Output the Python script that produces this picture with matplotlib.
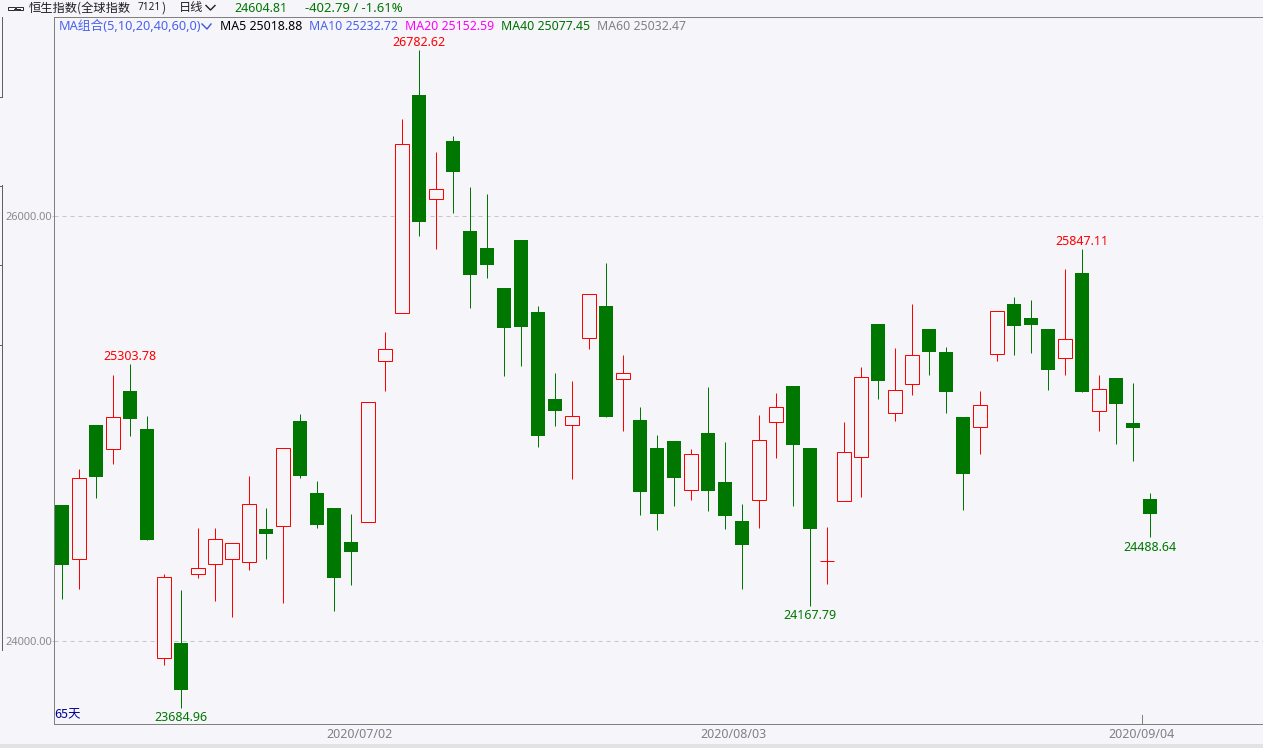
import matplotlib
matplotlib.use("Agg")
import matplotlib.pyplot as plt
from matplotlib.patches import Rectangle, FancyBboxPatch

W, H = 1263, 748

# (bullish candles close above open; bearish close below open)
opens = [24642, 24385, 25019, 24903, 25179, 25000, 23921, 23993, 24314, 24361,
         24385, 24373, 24529, 24540, 25038, 24699, 24628, 24468, 24559, 25317,
         25543, 26572, 26079, 26355, 25932, 25852, 25664, 25889, 25551, 25141,
         25016, 25425, 25579, 25232, 25042, 24911, 24944, 24710, 24981, 24751,
         24567, 24663, 25030, 25202, 24911, 24377, 24658, 24865, 25494, 25072,
         25208, 25471, 25362, 25056, 25006, 25350, 25588, 25522, 25471, 25331,
         25734, 25081, 25240, 25028, 24671]
closes = [24360, 24768, 24774, 25055, 25047, 24478, 24302, 23772, 24344, 24481,
          24462, 24646, 24506, 24909, 24779, 24548, 24299, 24421, 25126, 25375,
          26340, 25974, 26128, 26209, 25725, 25772, 25475, 25480, 24967, 25085,
          25060, 25634, 25056, 25262, 24704, 24600, 24769, 24881, 24708, 24591,
          24454, 24947, 25102, 24925, 24529, 24377, 24890, 25243, 25226, 25182,
          25347, 25362, 25174, 24788, 25112, 25554, 25485, 25489, 25278, 25422,
          25174, 25187, 25118, 25005, 24600]
highs = [24642, 24812, 25019, 25254, 25303.78, 25061, 24318, 24242, 24534, 24534,
         24462, 24779, 24628, 24909, 25071, 24755, 24628, 24600, 25126, 25455,
         26459, 26782.62, 26304, 26379, 26139, 26106, 25664, 25889, 25579, 25264,
         25226, 25634, 25781, 25348, 25104, 24972, 24944, 24906, 25198, 24939,
         24647, 25066, 25169, 25202, 24911, 24539, 25033, 25292, 25494, 25381,
         25588, 25471, 25386, 25056, 25179, 25554, 25621, 25607, 25471, 25753,
         25847.11, 25254, 25240, 25216, 24699]
lows = [24200, 24247, 24675, 24835, 24967, 24478, 23889, 23684.96, 24299, 24191,
        24115, 24333, 24388, 24181, 24769, 24534, 24144, 24266, 24559, 25179,
        25543, 25908, 25847, 26016, 25569, 25711, 25249, 25296, 24915, 25014,
        24765, 25376, 25056, 24991, 24595, 24525, 24638, 24666, 24614, 24529,
        24247, 24534, 24864, 24638, 24167.79, 24271, 24658, 24680, 25141, 25038,
        25160, 25254, 25075, 24619, 24882, 25320, 25348, 25358, 25184, 25254,
        25174, 24991, 24929, 24849, 24488.64]
bullish_doji = [45]
grid_levels = [24000, 26000]
grid_labels = ["24000.00", "26000.00"]
date_ticks = [17.5, 39.5, 63.5]
date_labels = ["2020/07/02", "2020/08/03", "2020/09/04"]
extreme_labels = [(4, 25303.78, "25303.78", "up"), (21, 26782.62, "26782.62", "up"),
                  (60, 25847.11, "25847.11", "up"), (7, 23684.96, "23684.96", "down"),
                  (44, 24167.79, "24167.79", "down"), (64, 24488.64, "24488.64", "down")]
ma_legend = [("MA5 25018.88", "#000000", 220), ("MA10 25232.72", "#4A62F0", 309),
             ("MA20 25152.59", "#FF00FF", 405), ("MA40 25077.45", "#007000", 501),
             ("MA60 25032.47", "#808088", 597)]

BG = "#F5F5FA"
RED = "#FF0000"
GREEN = "#007700"
AXIS = "#808080"
LABEL = ["Noto Sans", "Noto Sans CJK SC", "DejaVu Sans"]
CJK = ["Noto Sans CJK SC", "DejaVu Sans"]
THIN = 0.72  # one pixel at 100 dpi
X0 = 62.0    # pixel column of the first candle
Y26 = 216.2  # pixel row of the 26000 level

fig = plt.figure(figsize=(W / 100, H / 100), dpi=100, facecolor=BG)
ax = fig.add_axes([54 / W, 1 - 724 / H, (W - 54) / W, (724 - 17) / H])
ax.set_facecolor(BG)
ax.set_xlim((54 - X0) / 17, (W - X0) / 17)
# 212.5 px per 1000 points
ax.set_ylim(26000 - (724 - Y26) / 0.2125, 26000 + (Y26 - 17) / 0.2125)
ax.spines["right"].set_visible(False)
for s in ("left", "top", "bottom"):
    ax.spines[s].set_color(AXIS)
    ax.spines[s].set_linewidth(THIN)
ax.set_yticks(grid_levels)
ax.set_yticklabels(grid_labels, color="#8A8A8A", fontsize=7.9, family=LABEL)
ax.tick_params(axis="y", length=1.4, width=THIN, color="#C4C4CA", pad=0.2)
ax.set_xticks(date_ticks)
ax.set_xticklabels(date_labels, color="#808088", fontsize=9, family=LABEL)
ax.tick_params(axis="x", length=0, pad=3)
for lv in grid_levels:
    ax.axhline(lv, color="#C4C4CA", lw=THIN, ls=(0, (4, 4)), zorder=1)

for i, (o, c, hi, lo) in enumerate(zip(opens, closes, highs, lows)):
    up = c > o or i in bullish_doji
    top, bot = max(o, c), min(o, c)
    if up:
        ax.plot([i, i], [top, hi], color=RED, lw=THIN, zorder=3, solid_capstyle="butt")
        ax.plot([i, i], [bot, lo], color=RED, lw=THIN, zorder=3, solid_capstyle="butt")
        ax.add_patch(Rectangle((i - 0.41, bot), 0.82, top - bot, fc=BG, ec=RED,
                               lw=THIN, zorder=4))
    else:
        ax.plot([i, i], [lo, hi], color=GREEN, lw=THIN, zorder=3, solid_capstyle="butt")
        ax.add_patch(Rectangle((i - 0.44, bot), 0.88, top - bot, fc=GREEN, ec="none",
                               zorder=4))

for i, v, txt, side in extreme_labels:
    ax.annotate(txt, (i, v), xytext=(0, 0.7 if side == "up" else -2.4), textcoords="offset points",
                ha="center", va="bottom" if side == "up" else "top",
                color=RED if side == "up" else GREEN, fontsize=9, family=LABEL,
                annotation_clip=False, zorder=6)

# last-date marker on the time axis
ax.plot([date_ticks[-1]] * 2, [0, 0.013], transform=ax.get_xaxis_transform(), color=AXIS, lw=THIN)


def px(x, y, s, **kw):
    kw.setdefault("va", "center")
    kw.setdefault("fontsize", 9)
    kw.setdefault("family", LABEL)
    fig.text(x / W, 1 - y / H, s, **kw)


def seg(xs, ys, color=AXIS, lw=THIN):
    fig.add_artist(plt.Line2D([x / W for x in xs], [1 - y / H for y in ys], color=color, lw=lw))


# top information bar
for bx in (8.5, 16.5):
    fig.add_artist(FancyBboxPatch((bx / W, 1 - 10.5 / H), 7 / W, 3 / H, boxstyle="round,pad=0",
                                  transform=fig.transFigure, fc="none", ec="#303030", lw=THIN))
seg([14, 20], [9, 9], "#303030")
px(29, 8, "恒生指数(全球指数", color="#202020", family=CJK, fontsize=8.8)
px(138, 8, "7121", color="#202020", fontsize=7.2)
px(161, 8, ")", color="#202020", family=CJK, fontsize=8.8)
px(179, 8, "日线", color="#202020", family=CJK, fontsize=8.8)
seg([206, 210.5, 215], [5.5, 10, 5.5], "#202020", lw=1)
px(234, 8, "24604.81", color=GREEN)
px(305, 8, "-402.79 / -1.61%", color=GREEN, fontsize=9.4)

# MA row
px(59, 26, "MA组合(5,10,20,40,60,0)", color="#4A62F0", family=LABEL, fontsize=9.2)
seg([202, 207, 211], [24, 29, 24], "#3A55E0", lw=1)
for txt, col, x in ma_legend:
    px(x, 26, txt, color=col, fontsize=8.85)
px(54, 715, "65天", color="#000090", family=CJK, fontsize=9)

# left-edge scale brackets and bottom strip
seg([1.5, 1.5], [17, 96], "#606060")
seg([0, 1.5], [96.5, 96.5], "#606060")
seg([1.5, 1.5], [185, 650], "#606060")
seg([0, 1.5], [185.5, 185.5], "#606060")
seg([0, 1.5], [264.5, 264.5], "#606060")
seg([0, 1.5], [344.5, 344.5], "#606060")
fig.add_artist(Rectangle((0, 0), 1, 4 / H, transform=fig.transFigure, fc="#E1E2E6", ec="none"))

fig.savefig("out.png", dpi=100, facecolor=BG)
